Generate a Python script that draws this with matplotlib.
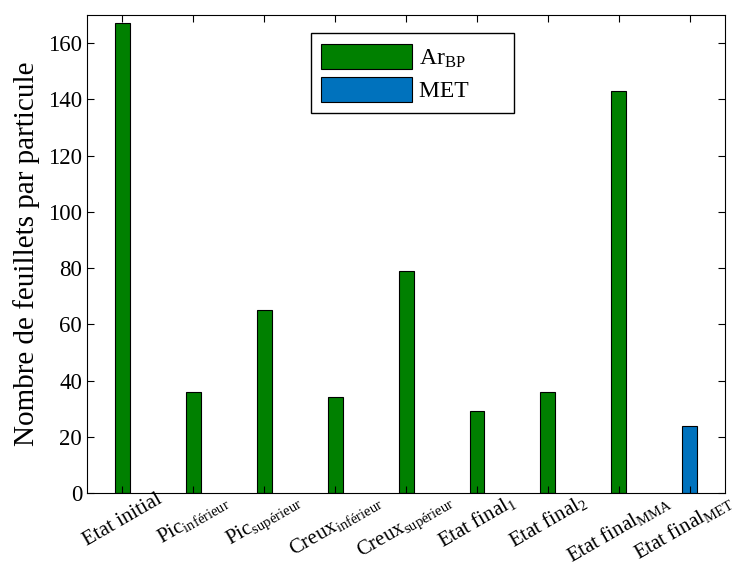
import matplotlib.pyplot as plt
import matplotlib.transforms as mtransforms
import numpy as np

plt.rcParams['font.family'] = ['Liberation Serif', 'DejaVu Serif']
plt.rcParams['mathtext.fontset'] = 'custom'
plt.rcParams['mathtext.rm'] = 'Liberation Serif'
plt.rcParams['mathtext.it'] = 'Liberation Serif:italic'

labels = ['Etat initial', r'Pic$_{\mathrm{inférieur}}$', r'Pic$_{\mathrm{supérieur}}$',
          r'Creux$_{\mathrm{inférieur}}$', r'Creux$_{\mathrm{supérieur}}$',
          r'Etat final$_{\mathrm{1}}$', r'Etat final$_{\mathrm{2}}$',
          r'Etat final$_{\mathrm{MMA}}$', r'Etat final$_{\mathrm{MET}}$']
ar_bp = [167, 36, 65, 34, 79, 29, 36, 143, 0]
met = [0, 0, 0, 0, 0, 0, 0, 0, 24]

fig = plt.figure(figsize=(7.4, 5.67), dpi=100)
ax = fig.add_axes([0.1176, 0.1305, 0.8624, 0.843])

x = np.arange(1, len(labels) + 1)
ax.bar(x, ar_bp, width=0.21, color='#008000', edgecolor='black', linewidth=0.8, label=r'$\mathrm{Ar}_{\mathrm{BP}}$')
ax.bar(x, met, width=0.21, color='#0072BD', edgecolor='black', linewidth=0.8, label='MET      ')

ax.set_xlim(0.5, 9.5)
ax.set_ylim(0, 170)
ax.set_yticks(range(0, 161, 20))
ax.set_xticks(x)
ax.set_xticklabels(labels, rotation=30, ha='center', va='top')
ax.tick_params(axis='both', direction='in', top=True, right=True, labelsize=16.5, length=5)
ax.tick_params(axis='x', pad=-2, labelsize=15)
ax.set_ylabel('Nombre de feuillets par particule', fontsize=21, labelpad=6)

# keep the last label inside the picture
last = ax.get_xticklabels()[-1]
last.set_transform(last.get_transform() + mtransforms.ScaledTranslation(-0.07, 0, fig.dpi_scale_trans))

ax.legend(loc='upper center', bbox_to_anchor=(0.51, 0.962), borderaxespad=0, fontsize=17,
          fancybox=False, edgecolor='black', framealpha=1, handlelength=3.85, handleheight=1.25,
          handletextpad=0.3, borderpad=0.45, labelspacing=0.3)

fig.savefig('out.png', dpi=100)
